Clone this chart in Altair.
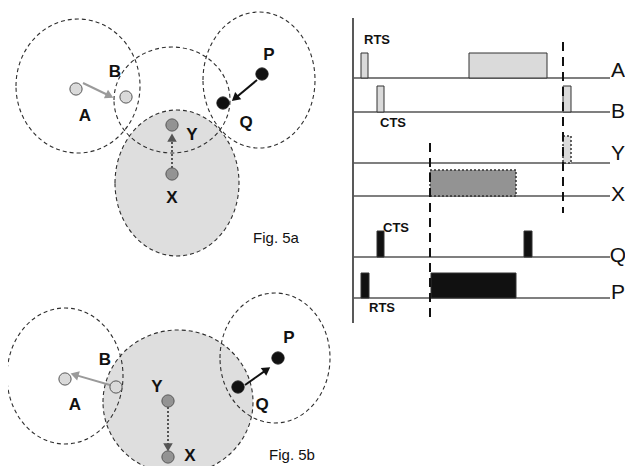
import altair as alt
import pandas as pd
import math

# ---------------- data ----------------
# Range circles (ellipses): cx, cy, rx, ry, filled?
circ_x = [78, 172, 259, 177, 65, 178, 275]
circ_y = [86, 100, 80, 183, 376, 402, 358]
circ_rx = [62, 58, 56, 62, 58, 75, 55]
circ_ry = [67, 53, 68, 73, 68, 72, 65]
circ_fill = [False, False, False, True, False, True, False]

# Nodes
node_name = ["A", "B", "P", "Q", "Y", "X", "A", "B", "Y", "X", "Q", "P"]
node_x = [76, 126, 262, 223, 172, 172, 65, 116, 168, 168, 238, 278]
node_y = [89, 97, 74, 103, 125, 174, 379, 387, 401, 457, 387, 358]
node_kind = ["light", "light", "black", "black", "mid", "mid",
             "light", "light", "mid", "mid", "black", "black"]

# Node labels
lab_text = ["A", "B", "P", "Q", "Y", "X", "B", "A", "Y", "X", "Q", "P"]
lab_x = [85, 115, 269, 246, 192, 172, 105, 75, 157, 190, 262, 289]
lab_y = [116, 72, 55, 123, 135, 198, 360, 405, 387, 456, 405, 338]

# Arrows: start -> end
arr_x1 = [83, 257, 172, 110, 245, 168]
arr_y1 = [83, 80, 168, 385, 385, 407]
arr_x2 = [112, 233, 172, 72, 269, 168]
arr_y2 = [97, 100, 135, 374, 368, 450]
arr_kind = ["gray", "black", "dotted", "gray", "black", "dotted"]

# Figure captions
cap_text = ["Fig. 5a", "Fig. 5b"]
cap_x = [276, 292]
cap_y = [238, 455]

# Timing diagram
tl_name = ["A", "B", "Y", "X", "Q", "P"]
tl_y = [78, 112, 163, 196, 257, 298]
tl_label_y = [71, 112, 154, 195, 256, 293]
tl_x0 = 353
tl_x1 = 610

# Pulses: x0, x1, y0, y1, style
p_x0 = [361, 469, 377, 563, 563, 430, 377, 524, 361, 431]
p_x1 = [368, 547, 384, 571, 571, 516, 384, 532, 369, 516]
p_y0 = [53, 53, 86, 86, 136, 170, 231, 231, 273, 273]
p_y1 = [78, 78, 112, 112, 163, 196, 257, 257, 298, 298]
p_style = ["light", "light", "light", "light", "lightdot", "middot",
           "black", "black", "black", "black"]

# Packet labels
pk_text = ["RTS", "CTS", "CTS", "RTS"]
pk_x = [377, 393, 396, 382]
pk_y = [40, 123, 228, 308]

# Dashed vertical markers
dv_x = [430, 563]
dv_y0 = [143, 42]
dv_y1 = [322, 213]

FONT = "Liberation Sans"

# ---------------- scales ----------------
X = alt.Scale(domain=[8, 625], nice=False, zero=False)
Y = alt.Scale(domain=[8, 466], nice=False, zero=False, reverse=True)
ax = None


def xe(f):
    return alt.X(f, type="quantitative", scale=X, axis=ax)


def ye(f):
    return alt.Y(f, type="quantitative", scale=Y, axis=ax)


# ---------------- circles ----------------
circ = pd.DataFrame({"x": circ_x, "y": circ_y, "rx": circ_rx, "ry": circ_ry, "filled": circ_fill})
circ["size"] = (2 * circ["rx"]) ** 2
circ["shape"] = [
    f"M -1 0 A 1 {r / q:.4f} 0 1 1 1 0 A 1 {r / q:.4f} 0 1 1 -1 0 Z"
    for q, r in zip(circ["rx"], circ["ry"])
]

circ_filled = alt.Chart(circ[circ["filled"]]).mark_point(
    filled=True, fill="#dedede", opacity=1, strokeOpacity=0
).encode(
    x=xe("x"), y=ye("y"),
    size=alt.Size("size:Q", scale=None),
    shape=alt.Shape("shape:N", scale=None),
)

circ_outline = alt.Chart(circ).mark_point(
    filled=False, stroke="#2e2e2e", strokeWidth=1.1, strokeDash=[4, 3], opacity=1
).encode(
    x=xe("x"), y=ye("y"),
    size=alt.Size("size:Q", scale=None),
    shape=alt.Shape("shape:N", scale=None),
)

# ---------------- arrows ----------------
arr = pd.DataFrame({"x": arr_x1, "y": arr_y1, "x2": arr_x2, "y2": arr_y2, "kind": arr_kind})
arr["angle"] = [
    (math.degrees(math.atan2(b2 - b1, -(d2 - d1))) + 360) % 360
    for b1, d1, b2, d2 in zip(arr["x"], arr["y"], arr["x2"], arr["y2"])
]
arr["hx"] = [x2 - 4 * math.sin(math.radians(a)) for x2, a in zip(arr["x2"], arr["angle"])]
arr["hy"] = [y2 + 4 * math.cos(math.radians(a)) for y2, a in zip(arr["y2"], arr["angle"])]

arr_color = alt.Color("kind:N", scale=alt.Scale(domain=["gray", "black", "dotted"],
                                                range=["#9a9a9a", "#111111", "#555555"]), legend=None)

shaft_solid = alt.Chart(arr[arr["kind"] != "dotted"]).mark_rule(strokeWidth=2).encode(
    x=xe("x"), y=ye("y"), x2="hx:Q", y2="hy:Q", color=arr_color
)
shaft_dot = alt.Chart(arr[arr["kind"] == "dotted"]).mark_rule(strokeWidth=2, strokeDash=[2, 2]).encode(
    x=xe("x"), y=ye("y"), x2="hx:Q", y2="hy:Q", color=arr_color
)
heads = alt.Chart(arr).mark_point(shape="triangle", filled=True, size=90, opacity=1).encode(
    x=xe("hx"), y=ye("hy"), angle=alt.Angle("angle:Q", scale=None), color=arr_color
)

# ---------------- nodes ----------------
nodes = pd.DataFrame({"name": node_name, "x": node_x, "y": node_y, "kind": node_kind})
node_layer = alt.Chart(nodes).mark_point(filled=True, size=150, strokeWidth=1, opacity=1).encode(
    x=xe("x"), y=ye("y"),
    fill=alt.Fill("kind:N", scale=alt.Scale(domain=["light", "mid", "black"],
                                            range=["#dadada", "#939393", "#111111"]), legend=None),
    stroke=alt.Stroke("kind:N", scale=alt.Scale(domain=["light", "mid", "black"],
                                                range=["#555555", "#555555", "#111111"]), legend=None),
)

labels = pd.DataFrame({"t": lab_text, "x": lab_x, "y": lab_y})
label_layer = alt.Chart(labels).mark_text(font=FONT, fontSize=17, fontWeight="bold", color="#111",
                                          baseline="middle").encode(
    x=xe("x"), y=ye("y"), text="t:N"
)

caps = pd.DataFrame({"t": cap_text, "x": cap_x, "y": cap_y})
cap_layer = alt.Chart(caps).mark_text(font=FONT, fontSize=15, color="#111", baseline="middle").encode(
    x=xe("x"), y=ye("y"), text="t:N"
)

# ---------------- timing diagram ----------------
axis_line = alt.Chart(pd.DataFrame({"x": [tl_x0], "y": [18], "y2": [323]})).mark_rule(
    color="#222", strokeWidth=1.5).encode(x=xe("x"), y=ye("y"), y2="y2:Q")

tl = pd.DataFrame({"name": tl_name, "y": tl_y, "ly": tl_label_y, "x0": tl_x0, "x1": tl_x1,
                   "lx": 618})
tl_lines = alt.Chart(tl).mark_rule(color="#555", strokeWidth=1.5).encode(
    x=xe("x0"), x2="x1:Q", y=ye("y"))
tl_labels = alt.Chart(tl).mark_text(font=FONT, fontSize=21, color="#111", baseline="middle").encode(
    x=xe("lx"), y=ye("ly"), text="name:N")

pulses = pd.DataFrame({"x0": p_x0, "x1": p_x1, "y0": p_y0, "y1": p_y1, "style": p_style})
pulse_fill = alt.Fill("style:N", scale=alt.Scale(
    domain=["light", "lightdot", "middot", "black"],
    range=["#dcdcdc", "#dcdcdc", "#ababab", "#161616"]), legend=None)
pulse_solid = alt.Chart(pulses[~pulses["style"].str.endswith("dot")]).mark_rect(
    stroke="#333", strokeWidth=1).encode(
    x=xe("x0"), x2="x1:Q", y=ye("y0"), y2="y1:Q", fill=pulse_fill)
pulse_dot = alt.Chart(pulses[pulses["style"].str.endswith("dot")]).mark_rect(
    stroke="#333", strokeWidth=1.5, strokeDash=[2, 2]).encode(
    x=xe("x0"), x2="x1:Q", y=ye("y0"), y2="y1:Q", fill=pulse_fill)

pk = pd.DataFrame({"t": pk_text, "x": pk_x, "y": pk_y})
pk_layer = alt.Chart(pk).mark_text(font=FONT, fontSize=13, fontWeight="bold", color="#111",
                                   baseline="middle").encode(x=xe("x"), y=ye("y"), text="t:N")

dv = pd.DataFrame({"x": dv_x, "y0": dv_y0, "y1": dv_y1})
dv_layer = alt.Chart(dv).mark_rule(color="#111", strokeWidth=2, strokeDash=[9, 6]).encode(
    x=xe("x"), y=ye("y0"), y2="y1:Q")

chart = alt.layer(
    circ_filled, circ_outline, shaft_solid, shaft_dot, heads, node_layer, label_layer, cap_layer,
    axis_line, tl_lines, pulse_solid, pulse_dot, dv_layer, tl_labels, pk_layer,
).properties(
    width=617, height=458, padding=0, autosize="none", background="white"
).configure_view(stroke=None)

chart.save("out.html", embed_options={"renderer": "svg", "actions": False})
